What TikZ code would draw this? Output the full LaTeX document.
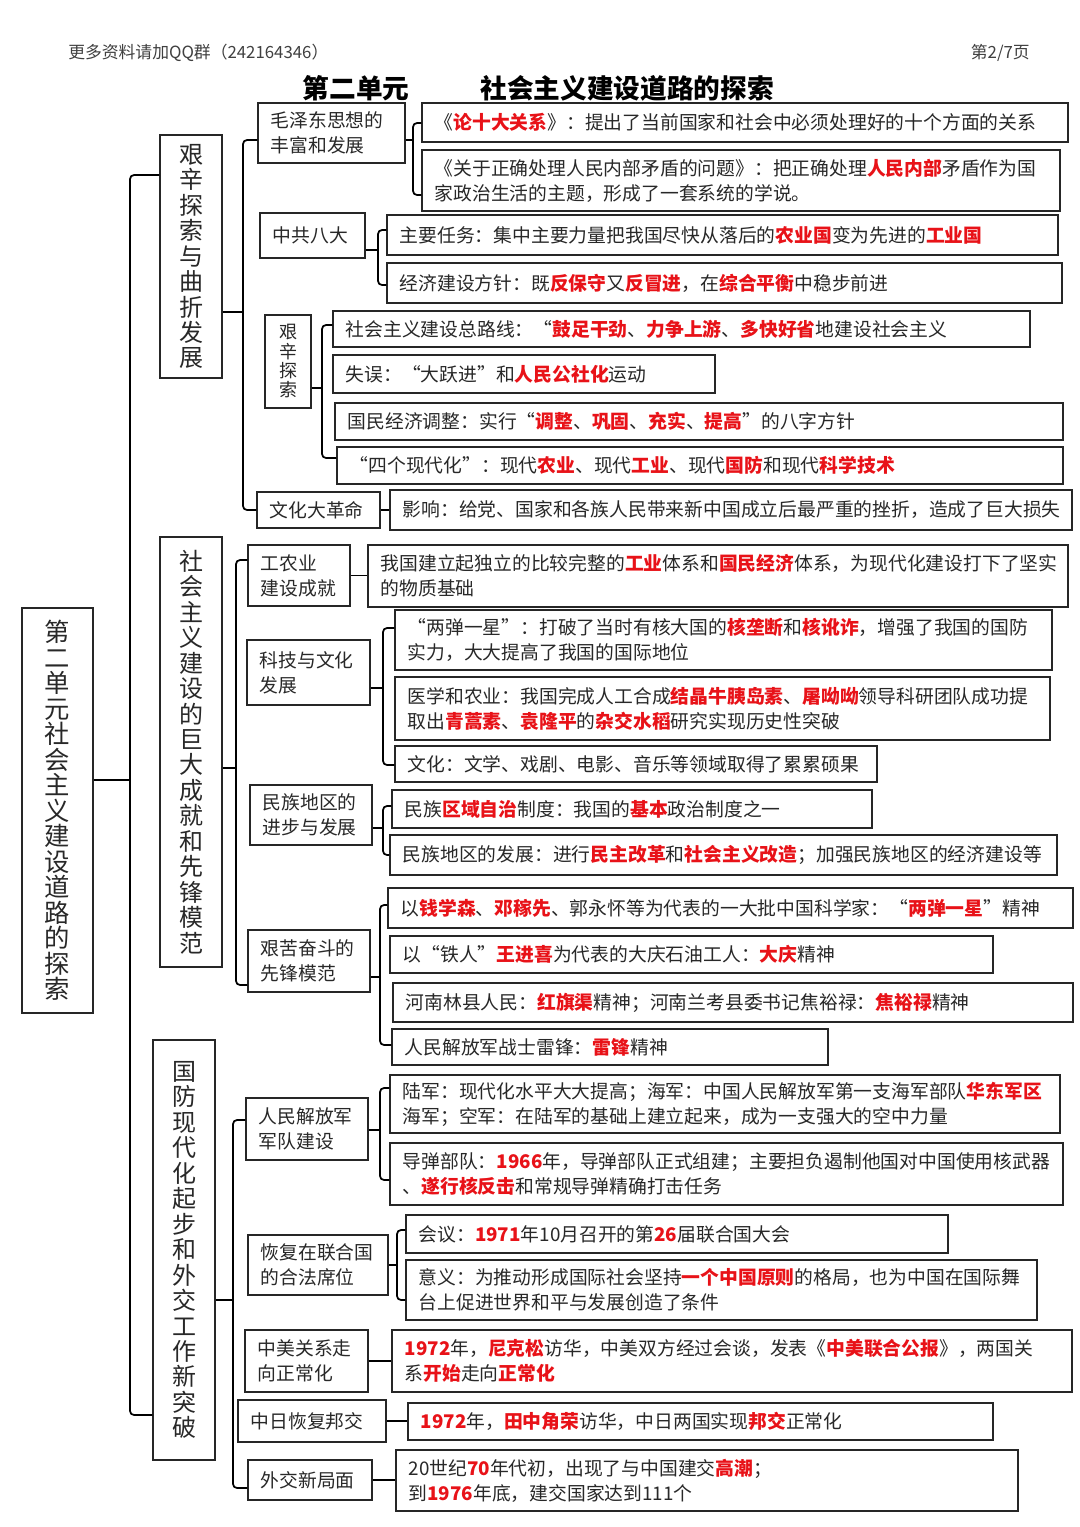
\documentclass[tikz,border=0pt]{standalone}
\usepackage{fontspec}
\setmainfont{Noto Sans CJK SC}
\usetikzlibrary{fit}
\definecolor{hlred}{RGB}{232,18,24}
\definecolor{ink}{RGB}{40,40,40}
\newcommand{\hl}[1]{{\color{hlred}\bfseries #1}}
\tikzset{
 box/.style={draw=black!85, line width=0.9pt, inner sep=0pt, rectangle},
 txt/.style={inner sep=0pt, align=left, text=ink, font=\fontsize{14.1pt}{18.75pt}\selectfont},
 vtxt/.style={inner sep=0pt, align=center, text=ink, font=\fontsize{18pt}{19.1pt}\selectfont},
 conn/.style={draw=black, line width=1.3pt},
}
\newcommand{\tbox}[6]{%
 \node[box, fit={(#2,#3) (#4,#5)}] (#1) {};
 \node[txt, anchor=west] (#1-t) at ([xshift=9.75pt]#1.west) {#6};}
\newcommand{\brk}[7]{%
 \coordinate (brT) at (#3,#2);
 \coordinate (brA) at (#3,#5);
 \coordinate (brB) at (#3,#7);
 \draw[conn] (#1.east |- brT) -- (brT);
 \draw[conn, rounded corners=3pt] (#4.west |- brA) -- (brA) -- (brB) -- (#6.west |- brB);}
\begin{document}
\begin{tikzpicture}[x=0.75pt,y=-0.75pt]
\useasboundingbox (0,0) rectangle (1080,1527);
\fill[white] (0,0) rectangle (1080,1527);
% header
\node[anchor=west, inner sep=0pt, text=black!75, font=\fontsize{12.6pt}{14pt}\selectfont] (hdr) at (68,53) {更多资料请加QQ群（242164346）};
\node[anchor=east, inner sep=0pt, text=black!75, font=\fontsize{12.6pt}{14pt}\selectfont] (pg) at (1030,53) {第2/7页};
\node[inner sep=0pt, font=\fontsize{20pt}{22pt}\selectfont\bfseries] (t1) at (356,88) {第二单元};
\node[inner sep=0pt, font=\fontsize{20pt}{22pt}\selectfont\bfseries] (t2) at (627,88) {社会主义建设道路的探索};
% root
\node[box, fit={(22,608) (93,1013)}] (root) {};
\node[vtxt, font=\fontsize{19pt}{19.1pt}\selectfont] (root-t) at (root.center) {第\\二\\单\\元\\社\\会\\主\\义\\建\\设\\道\\路\\的\\探\\索};
% level 1
\node[box, fit={(160,135) (222,378)}] (s1) {};
\node[vtxt] (s1-t) at (s1.center) {艰\\辛\\探\\索\\与\\曲\\折\\发\\展};
\node[box, fit={(160,537) (222,967)}] (s2) {};
\node[vtxt] (s2-t) at (s2.center) {社\\会\\主\\义\\建\\设\\的\\巨\\大\\成\\就\\和\\先\\锋\\模\\范};
\node[box, fit={(153,1040) (215,1460)}] (s3) {};
\node[vtxt] (s3-t) at (s3.center) {国\\防\\现\\代\\化\\起\\步\\和\\外\\交\\工\\作\\新\\突\\破};
% section 1
\tbox{a1}{258}{103}{405}{163}{毛泽东思想的\\丰富和发展}
\tbox{a1a}{422}{103}{1068}{142}{《\hl{论十大关系}》：提出了当前国家和社会中必须处理好的十个方面的关系}
\tbox{a1b}{422}{150}{1060}{211}{《关于正确处理人民内部矛盾的问题》：把正确处理\hl{人民内部}矛盾作为国\\家政治生活的主题，形成了一套系统的学说。}
\tbox{a2}{260}{213}{365}{258}{中共八大}
\tbox{a2a}{387}{215}{1058}{255}{主要任务：集中主要力量把我国尽快从落后的\hl{农业国}变为先进的\hl{工业国}}
\tbox{a2b}{387}{263}{1062}{303}{经济建设方针：既\hl{反保守}又\hl{反冒进}，在\hl{综合平衡}中稳步前进}
\node[box, fit={(265,315) (311,408)}] (a3) {};
\node[vtxt, font=\fontsize{13.5pt}{14.5pt}\selectfont] (a3-t) at (a3.center) {艰\\辛\\探\\索};
\tbox{a3a}{333}{311}{1030}{347}{社会主义建设总路线：“\hl{鼓足干劲}、\hl{力争上游}、\hl{多快好省}地建设社会主义}
\tbox{a3b}{333}{355}{715}{393}{失误：“大跃进”和\hl{人民公社化}运动}
\tbox{a3c}{335}{403}{1063}{440}{国民经济调整：实行“\hl{调整}、\hl{巩固}、\hl{充实}、\hl{提高}”的八字方针}
\tbox{a3d}{337}{447}{1063}{484}{“四个现代化”：现代\hl{农业}、现代\hl{工业}、现代\hl{国防}和现代\hl{科学技术}}
\tbox{a4}{257}{492}{380}{528}{文化大革命}
\tbox{a4a}{390}{490}{1072}{530}{影响：给党、国家和各族人民带来新中国成立后最严重的挫折，造成了巨大损失}
% section 2
\tbox{b1}{248}{545}{350}{606}{工农业\\建设成就}
\tbox{b1a}{368}{545}{1068}{607}{我国建立起独立的比较完整的\hl{工业}体系和\hl{国民经济}体系，为现代化建设打下了坚实\\的物质基础}
\tbox{b2}{247}{640}{370}{705}{科技与文化\\发展}
\tbox{b2a}{395}{610}{1052}{670}{“两弹一星”：打破了当时有核大国的\hl{核垄断}和\hl{核讹诈}，增强了我国的国防\\实力，大大提高了我国的国际地位}
\tbox{b2b}{395}{677}{1050}{740}{医学和农业：我国完成人工合成\hl{结晶牛胰岛素}、\hl{屠呦呦}领导科研团队成功提\\取出\hl{青蒿素}、\hl{袁隆平}的\hl{杂交水稻}研究实现历史性突破}
\tbox{b2c}{395}{746}{877}{782}{文化：文学、戏剧、电影、音乐等领域取得了累累硕果}
\tbox{b3}{250}{785}{372}{845}{民族地区的\\进步与发展}
\tbox{b3a}{392}{790}{872}{828}{民族\hl{区域自治}制度：我国的\hl{基本}政治制度之一}
\tbox{b3b}{390}{835}{1057}{875}{民族地区的发展：进行\hl{民主改革}和\hl{社会主义改造}；加强民族地区的经济建设等}
\tbox{b4}{248}{930}{370}{992}{艰苦奋斗的\\先锋模范}
\tbox{b4a}{388}{888}{1073}{928}{以\hl{钱学森}、\hl{邓稼先}、郭永怀等为代表的一大批中国科学家：“\hl{两弹一星}”精神}
\tbox{b4b}{390}{936}{993}{973}{以“铁人”\hl{王进喜}为代表的大庆石油工人：\hl{大庆}精神}
\tbox{b4c}{393}{983}{1073}{1022}{河南林县人民：\hl{红旗渠}精神；河南兰考县委书记焦裕禄：\hl{焦裕禄}精神}
\tbox{b4d}{392}{1029}{828}{1065}{人民解放军战士雷锋：\hl{雷锋}精神}
% section 3
\tbox{c1}{246}{1098}{368}{1160}{人民解放军\\军队建设}
\tbox{c1a}{390}{1075}{1060}{1133}{陆军：现代化水平大大提高；海军：中国人民解放军第一支海军部队\hl{华东军区}\\海军；空军：在陆军的基础上建立起来，成为一支强大的空中力量}
\tbox{c1b}{390}{1143}{1063}{1205}{导弹部队：\hl{1966}年，导弹部队正式组建；主要担负遏制他国对中国使用核武器\\、\hl{遂行核反击}和常规导弹精确打击任务}
\tbox{c2}{248}{1235}{388}{1295}{恢复在联合国\\的合法席位}
\tbox{c2a}{406}{1215}{948}{1253}{会议：\hl{1971}年10月召开的第\hl{26}届联合国大会}
\tbox{c2b}{406}{1260}{1037}{1320}{意义：为推动形成国际社会坚持\hl{一个中国原则}的格局，也为中国在国际舞\\台上促进世界和平与发展创造了条件}
\tbox{c3}{245}{1330}{368}{1392}{中美关系走\\向正常化}
\tbox{c3a}{392}{1330}{1072}{1392}{\hl{1972}年，\hl{尼克松}访华，中美双方经过会谈，发表《\hl{中美联合公报}》，两国关\\系\hl{开始}走向\hl{正常化}}
\tbox{c4}{238}{1400}{386}{1442}{中日恢复邦交}
\tbox{c4a}{408}{1403}{993}{1440}{\hl{1972}年，\hl{田中角荣}访华，中日两国实现\hl{邦交}正常化}
\tbox{c5}{248}{1460}{372}{1500}{外交新局面}
\tbox{c5a}{396}{1450}{1018}{1511}{20世纪\hl{70}年代初，出现了与中国建交\hl{高潮}；\\到\hl{1976}年底，建交国家达到111个}
% connectors
\brk{root}{780}{130}{s1}{175}{s3}{1415}
\brk{s1}{312}{243}{a1}{140}{a4}{510}
\brk{a1}{140}{413}{a1a}{123}{a1b}{195}
\brk{a2}{250}{378}{a2a}{230}{a2b}{285}
\brk{a3}{388}{322}{a3a}{325}{a3d}{458}
\draw[conn] (a4.east) -- (a4a.west);
\brk{s2}{768}{236}{b1}{560}{b4}{985}
\draw[conn] (b1.east) -- (b1.east -| b1a.west);
\brk{b2}{688}{383}{b2a}{628}{b2c}{765}
\brk{b3}{828}{383}{b3a}{806}{b3b}{855}
\brk{b4}{977}{380}{b4a}{905}{b4d}{1045}
\brk{s3}{1300}{233}{c1}{1120}{c5}{1488}
\brk{c1}{1130}{380}{c1a}{1088}{c1b}{1180}
\brk{c2}{1265}{397}{c2a}{1230}{c2b}{1300}
\draw[conn] (c3.east) -- (c3.east -| c3a.west);
\draw[conn] (c4.east) -- (c4.east -| c4a.west);
\draw[conn] (c5.east) -- (c5.east -| c5a.west);
\end{tikzpicture}
\end{document}
